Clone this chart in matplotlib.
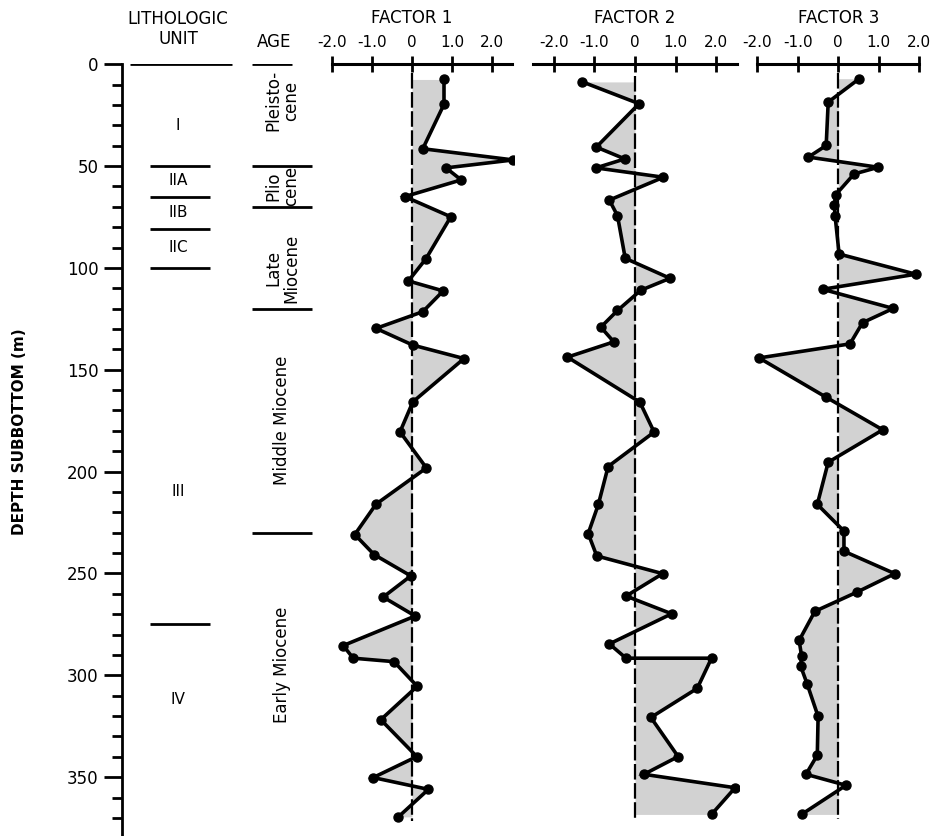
import numpy as np
import matplotlib
matplotlib.use("Agg")
import matplotlib.pyplot as plt

plt.rcParams['font.family'] = ['DejaVu Sans']

# factor scores (depth in m, score)
f1_depth = [7.5, 19.7, 41.5, 47, 50.9, 56.8, 65, 74.9, 95.5, 106.4, 111.3, 121.5, 129.7,
            137.9, 144.5, 165.8, 180.5, 198.2, 216, 230.9, 240.7, 251.2, 261.6, 270.9,
            285.4, 291.6, 293.3, 305.4, 321.8, 339.9, 350.2, 356, 369.5]
f1_val = [0.8, 0.8, 0.27, 2.53, 0.85, 1.23, -0.18, 0.97, 0.35, -0.09, 0.78, 0.27, -0.9,
          0.02, 1.3, 0.02, -0.3, 0.36, -0.9, -1.43, -0.95, -0.03, -0.72, 0.08,
          -1.72, -1.47, -0.45, 0.13, -0.78, 0.12, -0.97, 0.41, -0.34]

f2_depth = [8.7, 19.4, 40.7, 46.5, 50.9, 55.5, 66.7, 74.4, 95.3, 105.1, 111, 120.9, 129.1,
            136.3, 143.8, 165.9, 180.6, 197.5, 216.1, 230.4, 241.4, 250.1, 261.1, 269.8,
            284.6, 291.6, 291.6, 306.4, 320.7, 339.9, 348.6, 355.2, 368.3]
f2_val = [-1.29, 0.1, -0.95, -0.25, -0.96, 0.7, -0.63, -0.43, -0.24, 0.86, 0.14, -0.43, -0.84,
          -0.52, -1.66, 0.12, 0.47, -0.66, -0.9, -1.15, -0.94, 0.68, -0.22, 0.9,
          -0.63, -0.22, 1.88, 1.53, 0.39, 1.06, 0.22, 2.46, 1.88]

f3_depth = [7.1, 18.6, 39.9, 45.6, 50.6, 53.9, 64, 69, 74.4, 93.2, 103.1, 110.5, 119.9,
            126.9, 137.3, 144.2, 163.5, 179.5, 195.4, 216.1, 229.2, 239.1, 250.1, 259.1,
            268.6, 282.9, 290.3, 295.6, 304.3, 320.2, 339.2, 348.6, 354, 368.3]
f3_val = [0.52, -0.25, -0.3, -0.74, 0.99, 0.39, -0.06, -0.1, -0.08, 0.02, 1.92, -0.39, 1.36,
          0.6, 0.29, -1.96, -0.3, 1.1, -0.25, -0.52, 0.14, 0.14, 1.4, 0.47,
          -0.58, -0.97, -0.91, -0.93, -0.77, -0.5, -0.52, -0.8, 0.19, -0.91]

# lithologic units and ages
unit_bounds = [0, 50, 65, 81, 100, 275]
unit_names = ['I', 'IIA', 'IIB', 'IIC', 'III', 'IV']
unit_label_depth = [30, 57, 73, 90, 210, 312]
age_bounds = [0, 50, 70, 120, 230]
age_names = ['Pleisto-\ncene', 'Plio\ncene', 'Late\nMiocene', 'Middle Miocene', 'Early Miocene']
age_label_depth = [18, 60, 100, 175, 295]

factor_ticks = [-2, -1, 0, 1, 2]
factor_ticklabels = ['-2.0', '-1.0', '0', '1.0', '2.0']

W, H = 936, 836
fig = plt.figure(figsize=(W / 100, H / 100), dpi=100)

top_px = 64.2
px_per_m = 2.037
dmax = (H - top_px) / px_per_m
ax_h = (H - top_px) / H


def px_axes(left_px, right_px):
    return fig.add_axes([left_px / W, 0, (right_px - left_px) / W, ax_h])


# depth / column axes
ax_d = px_axes(122, 320)
ax_d.set_ylim(dmax, 0)
ax_d.set_xlim(122, 320)
for s in ['top', 'right', 'bottom']:
    ax_d.spines[s].set_visible(False)
ax_d.spines['left'].set_linewidth(2)
ax_d.set_xticks([])
ax_d.set_yticks(np.arange(0, 351, 50))
ax_d.set_yticks(np.arange(0, dmax, 10), minor=True)
ax_d.tick_params(axis='y', which='major', length=13, width=2, labelsize=12, pad=4)
ax_d.tick_params(axis='y', which='minor', length=7, width=2)
ax_d.patch.set_alpha(0)
fig.text(20 / W, 1 - 432 / H, 'DEPTH SUBBOTTOM (m)', rotation=90, ha='center', va='center',
         fontsize=11, fontweight='bold')

for i, d in enumerate(unit_bounds):
    if i == 0:
        ax_d.plot([130, 232], [d, d], color='black', lw=2, solid_capstyle='butt')
    else:
        ax_d.plot([150, 210], [d, d], color='black', lw=2, solid_capstyle='butt')
for name, d in zip(unit_names, unit_label_depth):
    ax_d.text(178, d, name, ha='center', va='center', fontsize=11)

for i, d in enumerate(age_bounds):
    if i == 0:
        ax_d.plot([252, 292], [d, d], color='black', lw=2, solid_capstyle='butt')
    else:
        ax_d.plot([252, 312], [d, d], color='black', lw=2, solid_capstyle='butt')
for name, d in zip(age_names, age_label_depth):
    ax_d.text(282, d, name, ha='center', va='center', rotation=90, fontsize=12,
              linespacing=1.0, multialignment='center')

fig.text(178 / W, 1 - 29 / H, 'LITHOLOGIC\nUNIT', ha='center', va='center', fontsize=12,
         linespacing=1.1)
fig.text(274 / W, 1 - 42 / H, 'AGE', ha='center', va='center', fontsize=12)

# factor panels: (data, zero px, px per unit, spine bounds, title)
panels = [
    (f1_depth, f1_val, 412.0, 40.0, (-2, 2.5), 'FACTOR 1'),
    (f2_depth, f2_val, 635.0, 40.7, (-2.5, 2.5), 'FACTOR 2'),
    (f3_depth, f3_val, 838.3, 40.4, (-2, 2), 'FACTOR 3'),
]

for depth, val, zero_px, ppu, bounds, title in panels:
    ax = px_axes(zero_px - 2.55 * ppu, zero_px + 2.55 * ppu)
    ax.set_xlim(-2.55, 2.55)
    ax.set_ylim(dmax, 0)
    ax.patch.set_alpha(0)
    for s in ['left', 'right', 'bottom']:
        ax.spines[s].set_visible(False)
    ax.spines['top'].set_linewidth(2.2)
    ax.spines['top'].set_bounds(*bounds)
    ax.set_yticks([])
    ax.xaxis.set_ticks_position('top')
    ax.set_xticks(factor_ticks)
    ax.set_xticklabels(factor_ticklabels)
    ax.tick_params(axis='x', direction='inout', length=12, width=2, labelsize=11, pad=4)
    fig.text(zero_px / W, 1 - 18 / H, title, ha='center', va='center', fontsize=12)

    ax.fill_betweenx(depth, 0, val, color='#d2d2d2', lw=0)
    ax.plot([0, 0], [depth[0] - 3, depth[-1] + 2], color='black', lw=1.6,
            dashes=(7, 1.6))
    ax.plot(val, depth, color='black', lw=2.6, marker='o', markersize=6.5,
            solid_joinstyle='miter')

fig.savefig('out.png', dpi=100)
